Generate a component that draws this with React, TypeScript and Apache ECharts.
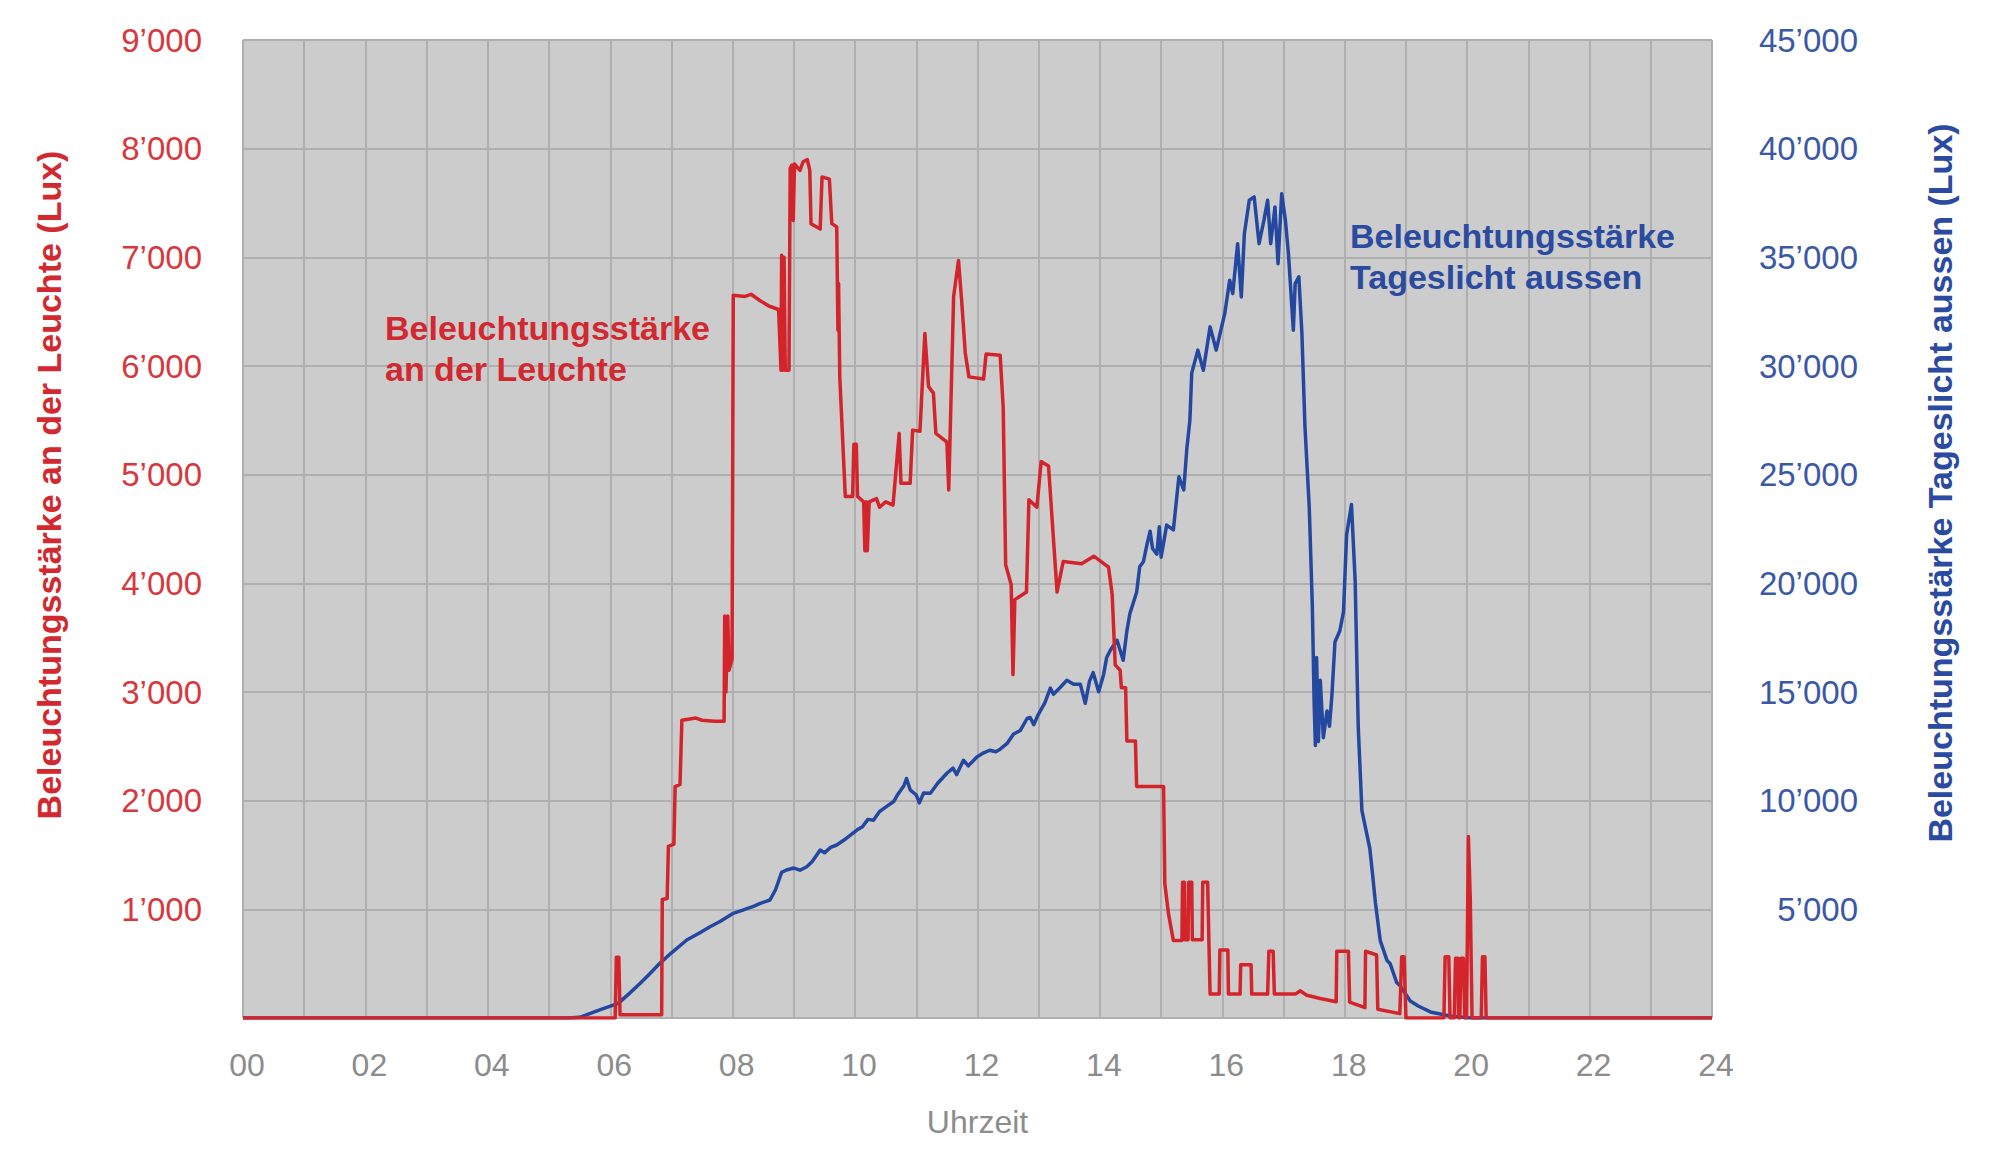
import React, { useEffect, useRef } from "react";
import * as echarts from "echarts";

// Hours of day
const hourTicks = [0, 2, 4, 6, 8, 10, 12, 14, 16, 18, 20, 22, 24];

// Beleuchtungsstärke an der Leuchte (left axis, Lux)
const redTime = [
  0, 6.08, 6.1, 6.14, 6.16, 6.84, 6.85, 6.93, 6.95, 7.04, 7.06, 7.14, 7.17, 7.4, 7.5, 7.7, 7.86, 7.87, 7.89, 7.92,
  7.94, 7.99, 8.01, 8.2, 8.3, 8.45, 8.6, 8.75, 8.79, 8.8, 8.82, 8.84, 8.86, 8.92, 8.94, 8.97, 8.99, 9.01, 9.1, 9.15,
  9.22, 9.26, 9.28, 9.43, 9.46, 9.58, 9.62, 9.7, 9.72, 9.73, 9.75, 9.84, 9.96, 9.98, 10.02, 10.04, 10.14, 10.16, 10.18, 10.2,
  10.23, 10.35, 10.4, 10.5, 10.62, 10.72, 10.75, 10.9, 10.94, 11.06, 11.14, 11.2, 11.28, 11.32, 11.5, 11.53, 11.61, 11.69, 11.74, 11.8,
  11.86, 12.1, 12.14, 12.37, 12.42, 12.46, 12.55, 12.58, 12.61, 12.8, 12.84, 12.97, 13.04, 13.16, 13.3, 13.4, 13.7, 13.9, 14.14, 14.2,
  14.25, 14.33, 14.35, 14.42, 14.44, 14.58, 14.6, 15.04, 15.06, 15.12, 15.2, 15.34, 15.35, 15.38, 15.39, 15.44, 15.45, 15.5, 15.51, 15.67,
  15.68, 15.76, 15.78, 15.8, 15.95, 15.96, 16.09, 16.1, 16.29, 16.3, 16.47, 16.48, 16.74, 16.76, 16.83, 16.85, 17.2, 17.27, 17.38, 17.6,
  17.86, 17.87, 18.06, 18.08, 18.33, 18.34, 18.52, 18.54, 18.9, 18.93, 18.97, 19.0, 19.62, 19.64, 19.7, 19.72, 19.79, 19.81, 19.85, 19.86,
  19.88, 19.9, 19.94, 19.96, 19.99, 20.02, 20.05, 20.08, 20.23, 20.25, 20.29, 20.31, 24
];
const redLux = [
  0, 0, 560, 560, 30, 30, 1090, 1100, 1580, 1600, 2130, 2150, 2740, 2760, 2740, 2730, 2730, 3700, 3000, 3700,
  3200, 3300, 6650, 6640, 6660, 6600, 6550, 6520, 5960, 7020, 5960, 7000, 5960, 5960, 7820, 7850, 7340, 7860, 7800, 7880,
  7900, 7800, 7310, 7260, 7740, 7720, 7310, 7280, 6330, 6760, 5900, 4800, 4800, 5280, 5280, 4800, 4750, 4300, 4750, 4300,
  4750, 4780, 4700, 4750, 4720, 5380, 4920, 4920, 5410, 5400, 6300, 5810, 5750, 5380, 5300, 4860, 6640, 6970, 6610, 6120,
  5900, 5880, 6110, 6100, 5620, 4170, 3990, 3160, 3850, 3920, 4770, 4700, 5120, 5080, 3920, 4200, 4180, 4250, 4150, 3900,
  3250, 3200, 3040, 3040, 2550, 2550, 2130, 2130, 1240, 960, 713, 713, 1250, 1250, 720, 720, 1250, 1250, 720, 720,
  1250, 1250, 720, 220, 220, 625, 625, 220, 220, 490, 490, 220, 220, 615, 615, 222, 222, 250, 210, 180,
  150, 615, 615, 147, 95, 615, 580, 80, 40, 563, 563, 0, 0, 563, 563, 0, 0, 550, 550, 0,
  0, 550, 550, 0, 0, 1670, 1110, 0, 0, 563, 563, 0, 0
];

// Beleuchtungsstärke Tageslicht aussen (right axis, Lux)
const blueTime = [
  0, 5.3, 5.5, 5.61, 5.85, 6.13, 6.3, 6.49, 6.65, 6.81, 7.0, 7.25, 7.45, 7.63, 7.8, 8.01, 8.2, 8.35, 8.45, 8.61,
  8.7, 8.8, 8.88, 9.0, 9.1, 9.21, 9.3, 9.43, 9.5, 9.6, 9.7, 9.85, 10.03, 10.12, 10.21, 10.3, 10.4, 10.5, 10.63, 10.7,
  10.8, 10.84, 10.9, 11.0, 11.05, 11.12, 11.23, 11.35, 11.5, 11.6, 11.66, 11.77, 11.85, 11.99, 12.1, 12.2, 12.3, 12.37, 12.48, 12.59,
  12.7, 12.81, 12.86, 12.92, 12.99, 13.1, 13.19, 13.24, 13.35, 13.46, 13.57, 13.68, 13.76, 13.83, 13.89, 13.98, 14.06, 14.11, 14.17, 14.28,
  14.38, 14.44, 14.49, 14.6, 14.65, 14.71, 14.77, 14.82, 14.86, 14.93, 14.97, 15.0, 15.09, 15.2, 15.29, 15.37, 15.42, 15.47, 15.5, 15.6,
  15.69, 15.8, 15.9, 16.04, 16.12, 16.17, 16.25, 16.31, 16.36, 16.44, 16.52, 16.6, 16.68, 16.74, 16.79, 16.86, 16.91, 16.97, 17.03, 17.08,
  17.16, 17.19, 17.25, 17.3, 17.35, 17.42, 17.47, 17.5, 17.52, 17.54, 17.57, 17.6, 17.65, 17.71, 17.75, 17.79, 17.84, 17.92, 17.98, 18.03,
  18.11, 18.17, 18.22, 18.28, 18.41, 18.45, 18.5, 18.58, 18.69, 18.74, 18.85, 18.9, 19.07, 19.2, 19.4, 19.72, 20.05, 24
];
const blueLux = [
  0, 0, 30, 140, 400, 675, 1100, 1595, 2050, 2515, 3000, 3590, 3900, 4200, 4450, 4815, 5000, 5150, 5275, 5430,
  5900, 6700, 6810, 6900, 6800, 6960, 7200, 7730, 7600, 7850, 7960, 8250, 8650, 8800, 9140, 9100, 9500, 9700, 9960, 10300,
  10700, 11020, 10500, 10260, 9900, 10350, 10340, 10800, 11260, 11500, 11200, 11860, 11600, 12010, 12200, 12320, 12250, 12370, 12620, 13070,
  13230, 13780, 13830, 13500, 13950, 14500, 15180, 14900, 15210, 15540, 15360, 15360, 14480, 15500, 15890, 15010, 15800, 16590, 16920, 17380,
  16460, 17800, 18610, 19590, 20760, 20990, 21800, 22400, 21600, 21340, 22600, 21200, 22680, 22460, 24900, 24300, 26200, 27510, 29670, 30730,
  29800, 31800, 30730, 32420, 33950, 33330, 35630, 33180, 36090, 37630, 37780, 35630, 36710, 37630, 35630, 37320, 34710, 37930, 36710, 35170,
  31650, 33790, 34100, 31500, 27200, 23500, 19000, 14500, 12540, 16590, 12720, 15540, 12900, 14130, 13420, 14830, 17300, 17820, 18700, 22230,
  23630, 20110, 13420, 9550, 7790, 6730, 5330, 3560, 2650, 2510, 1620, 1500, 780, 550, 280, 90, 0, 0
];

const RED = "#d4242b";
const BLUE = "#2448a0";
const FONT = '"Liberation Sans", Arial, Helvetica, sans-serif';

const fmtThousands = (v: number) => {
  if (v === 0) return "";
  const k = Math.floor(v / 1000);
  const r = String(Math.round(v % 1000)).padStart(3, "0");
  return `${k}\u2019${r}`;
};

export default function App() {
  const ref = useRef<HTMLDivElement>(null);

  useEffect(() => {
    if (!ref.current) return;
    const chart = echarts.init(ref.current, undefined, { renderer: "svg" });

    const redData = redTime.map((t, i) => [t, redLux[i]]);
    const blueData = blueTime.map((t, i) => [t, blueLux[i]]);

    chart.setOption({
      animation: false,
      backgroundColor: "#ffffff",
      grid: {
        left: 243,
        right: 288,
        top: 40,
        bottom: 142,
        show: true,
        backgroundColor: "#cccccc",
        borderWidth: 0,
      },
      xAxis: {
        type: "value",
        min: 0,
        max: 24,
        interval: 1,
        axisLine: { show: false },
        axisTick: { show: false },
        splitLine: { show: true, lineStyle: { color: "#afafaf", width: 2 } },
        axisLabel: {
          margin: 31,
          color: "#8c8c8c",
          fontSize: 32,
          fontFamily: FONT,
          padding: [0, 0, 0, 8],
          formatter: (v: number) =>
            hourTicks.includes(v) ? String(v).padStart(2, "0") : "",
        },
        name: "Uhrzeit",
        nameLocation: "middle",
        nameGap: 88,
        nameTextStyle: { color: "#8c8c8c", fontSize: 32, fontFamily: FONT },
      },
      yAxis: [
        {
          type: "value",
          position: "left",
          min: 0,
          max: 9000,
          interval: 1000,
          axisLine: { show: false },
          axisTick: { show: false },
          splitLine: { show: true, lineStyle: { color: "#afafaf", width: 2 } },
          axisLabel: {
            margin: 41,
            color: "#d6383e",
            fontSize: 33,
            fontFamily: FONT,
            padding: [12, 0, 0, 0],
            formatter: fmtThousands,
          },
        },
        {
          type: "value",
          position: "right",
          min: 0,
          max: 45000,
          interval: 5000,
          axisLine: { show: false },
          axisTick: { show: false },
          splitLine: { show: false },
          axisLabel: {
            margin: 146,
            align: "right",
            color: "#3a58a6",
            fontSize: 33,
            fontFamily: FONT,
            padding: [6, 0, 0, 0],
            formatter: fmtThousands,
          },
        },
      ],
      series: [
        {
          name: "Beleuchtungsstärke Tageslicht aussen",
          type: "line",
          yAxisIndex: 1,
          data: blueData,
          showSymbol: false,
          symbol: "none",
          lineStyle: { color: BLUE, width: 3.5, join: "round" },
          z: 2,
        },
        {
          name: "Beleuchtungsstärke an der Leuchte",
          type: "line",
          yAxisIndex: 0,
          data: redData,
          showSymbol: false,
          symbol: "none",
          lineStyle: { color: RED, width: 3.5, join: "round" },
          z: 3,
        },
      ],
      graphic: [
        {
          type: "text",
          x: 49,
          y: 485,
          rotation: Math.PI / 2,
          style: {
            text: "Beleuchtungsstärke an der Leuchte (Lux)",
            fill: "#d2282f",
            font: `bold 34px ${FONT}`,
            textAlign: "center",
            textVerticalAlign: "middle",
            align: "center",
            verticalAlign: "middle",
          },
        },
        {
          type: "text",
          x: 1940,
          y: 483,
          rotation: Math.PI / 2,
          style: {
            text: "Beleuchtungsstärke Tageslicht aussen (Lux)",
            fill: "#2a4b9f",
            font: `bold 34px ${FONT}`,
            textAlign: "center",
            textVerticalAlign: "middle",
            align: "center",
            verticalAlign: "middle",
          },
        },
        {
          type: "text",
          x: 385,
          y: 307,
          z: 10,
          style: {
            text: "Beleuchtungsstärke\nan der Leuchte",
            fill: "#d2282f",
            font: `bold 34px ${FONT}`,
            lineHeight: 41,
            textAlign: "left",
            textVerticalAlign: "top",
            align: "left",
            verticalAlign: "top",
          },
        },
        {
          type: "text",
          x: 1350,
          y: 215,
          z: 10,
          style: {
            text: "Beleuchtungsstärke\nTageslicht aussen",
            fill: "#2a4b9f",
            font: `bold 34px ${FONT}`,
            lineHeight: 41,
            textAlign: "left",
            textVerticalAlign: "top",
            align: "left",
            verticalAlign: "top",
          },
        },
      ],
    });

    return () => chart.dispose();
  }, []);

  return (
    <div
      ref={ref}
      style={{ position: "fixed", left: 0, top: 0, width: 2000, height: 1160 }}
    />
  );
}
